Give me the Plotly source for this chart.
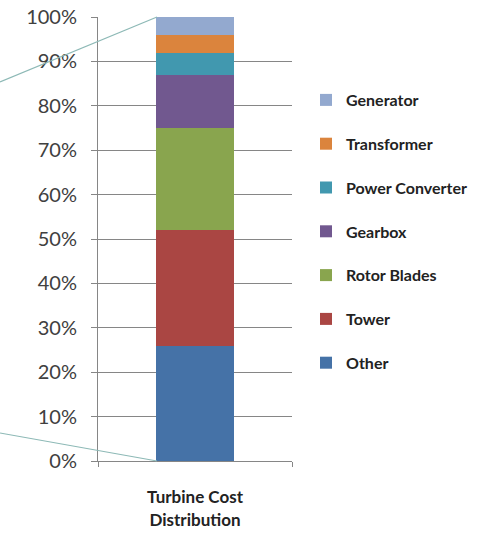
import plotly.graph_objects as go

categories = ["Turbine Cost<br>Distribution"]
components = ["Other", "Tower", "Rotor Blades", "Gearbox", "Power Converter", "Transformer", "Generator"]
shares = [26, 26, 23, 12, 5, 4, 4]
colors = ["#4572A7", "#AA4643", "#89A54E", "#71588F", "#4198AF", "#DB843D", "#93A9CF"]
y_ticks = [0, 10, 20, 30, 40, 50, 60, 70, 80, 90, 100]
y_tick_labels = [f"{v}%" for v in y_ticks]

FONT = "Lato, 'Open Sans', sans-serif"

fig = go.Figure()
n = len(components)
for i, (name, val, col) in enumerate(zip(components, shares, colors)):
    fig.add_trace(go.Bar(
        x=categories, y=[val], name=name, legendgroup=name,
        legendrank=n - i,
        marker=dict(color=col, line=dict(width=0)),
        width=0.4,
    ))

W, H = 481, 533
L, R, T, B = 98, 189, 17, 72
pw, ph = W - L - R, H - T - B

def px(x):
    return (x - L) / pw

def py(y):
    return (H - B - y) / ph

line_col = "#8DB9B6"
fig.add_shape(type="line", xref="paper", yref="paper",
              x0=px(0), y0=py(82), x1=px(157), y1=py(17),
              line=dict(color=line_col, width=1.2))
fig.add_shape(type="line", xref="paper", yref="paper",
              x0=px(0), y0=py(433), x1=px(157), y1=py(461),
              line=dict(color=line_col, width=1.2))

fig.update_layout(
    width=W, height=H,
    margin=dict(l=L, r=R, t=T, b=B, pad=0, autoexpand=False),
    barmode="stack",
    plot_bgcolor="white", paper_bgcolor="white",
    font=dict(family=FONT, color="#333333"),
    showlegend=True,
    legend=dict(
        traceorder="grouped",
        x=px(306), xanchor="left",
        y=py(83), yanchor="top",
        font=dict(size=16, color="#222222", family=FONT, weight="bold"),
        tracegroupgap=20,
        itemwidth=30,
        bgcolor="rgba(0,0,0,0)",
    ),
    xaxis=dict(
        type="category",
        range=[-0.5, 0.5],
        automargin=False,
        showline=True, linecolor="#868686", linewidth=1,
        ticks="outside", tickson="boundaries", ticklen=5, tickcolor="#868686",
        tickfont=dict(size=17, color="#222222", family=FONT, weight="bold"),
        ticklabelstandoff=21,
        showgrid=False,
        fixedrange=True,
    ),
    yaxis=dict(
        range=[0, 100],
        automargin=False,
        tickvals=y_ticks, ticktext=y_tick_labels,
        showline=True, linecolor="#868686", linewidth=1,
        ticks="outside", ticklen=6, tickcolor="#868686",
        showgrid=True, gridcolor="#868686", gridwidth=1,
        tickfont=dict(size=20, color="#404040", family=FONT),
        ticklabelstandoff=10,
        zeroline=False,
    ),
)

fig.write_html("out.html", config={"displayModeBar": False},
               post_script="document.body.style.margin='0';")
